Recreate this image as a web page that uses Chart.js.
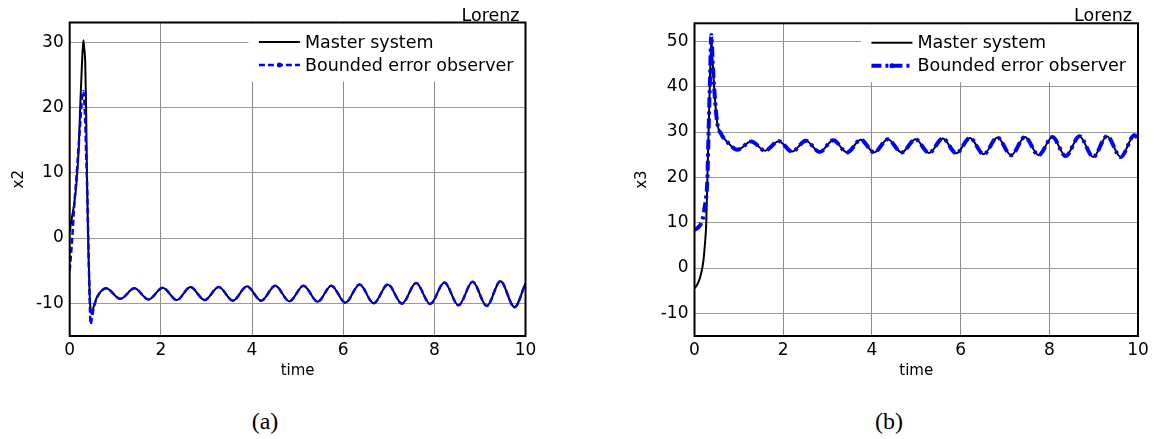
<!DOCTYPE html>
<html>
<head>
<meta charset="utf-8">
<script src="https://cdn.jsdelivr.net/npm/chart.js@4/dist/chart.umd.min.js"></script>
<style>
  html, body { margin: 0; padding: 0; background: #fff; }
  body { width: 1166px; height: 439px; position: relative; overflow: hidden; }
  .panel { position: absolute; top: 0; width: 583px; height: 395px; }
  .caption { position: absolute; top: 408px; width: 60px; text-align: center;
             font: 24px "Liberation Serif", serif; color: #000; }
</style>
</head>
<body>
<div class="panel" style="left:0"><canvas id="chartA" width="583" height="395"></canvas></div>
<div class="panel" style="left:583px"><canvas id="chartB" width="583" height="395"></canvas></div>
<div class="caption" style="left:235px">(a)</div>
<div class="caption" style="left:859px">(b)</div>
<script>
// ---- data ----
const timeTicks = [0, 2, 4, 6, 8, 10]
const x2Ticks = [-10, 0, 10, 20, 30]
const x3Ticks = [-10, 0, 10, 20, 30, 40, 50]
const seriesNames = ['Master system', 'Bounded error observer']

// (a) x2: start-up transient, master and observer differ
const x2TransientTime = [0, 0.05, 0.1, 0.15, 0.2, 0.23, 0.27, 0.3, 0.32, 0.34, 0.36, 0.38, 0.41, 0.44, 0.46, 0.48, 0.53, 0.6, 0.68, 0.8]
const x2MasterTransient = [1.0, 3.2, 5.3, 8.5, 14, 20, 26.8, 30.3, 29, 27, 20, 9, -2, -9, -11, -11.6, -10.4, -9.0, -8.2, -7.7]
const x2ObserverTransient = [-5, -0.5, 5, 9.5, 14.5, 17.5, 21.5, 22.5, 21, 18, 13, 8.5, -1, -10, -13.2, -12.5, -10.6, -9.1, -8.2, -7.7]
// (a) x2 afterwards: both curves lie on top of each other (troughs / crests)
const x2SteadyTime = [1.11, 1.42, 1.73, 2.04, 2.35, 2.65, 2.96, 3.27, 3.58, 3.89, 4.20, 4.51, 4.82, 5.13, 5.44, 5.74,
  6.05, 6.36, 6.67, 6.98, 7.29, 7.60, 7.91, 8.22, 8.53, 8.84, 9.15, 9.45, 9.76, 10.0]
const x2Steady = [-9.3, -7.7, -9.4, -7.6, -9.5, -7.5, -9.5, -7.5, -9.6, -7.4, -9.6, -7.3, -9.7, -7.3, -9.75, -7.3,
  -9.9, -7.1, -10.0, -7.1, -10.05, -6.9, -10.1, -6.8, -10.3, -6.7, -10.4, -6.6, -10.6, -6.9]

// (b) x3
const x3TransientTime = [0, 0.08, 0.15, 0.2, 0.23, 0.265, 0.29, 0.32, 0.35, 0.38, 0.41, 0.44, 0.51, 0.6, 0.75, 0.96]
const x3MasterTransient = [-4.5, -3.3, -1.2, 1.5, 4.7, 9.9, 19.6, 31, 42, 50.5, 45.5, 40.3, 32.2, 29.6, 27.7, 26.1]
const x3ObserverTransient = [8.4, 8.9, 9.9, 11.5, 13.5, 15.8, 19.6, 31, 42, 51.4, 45.5, 40.3, 32.2, 29.6, 27.7, 26.1]
const x3SteadyTime = [1.28, 1.59, 1.90, 2.20, 2.51, 2.82, 3.13, 3.44, 3.75, 4.05, 4.36, 4.67, 4.98, 5.29, 5.60,
  5.90, 6.21, 6.52, 6.83, 7.14, 7.45, 7.76, 8.07, 8.37, 8.68, 8.99, 9.30, 9.61, 9.92, 10.0]
const x3Steady = [27.9, 25.9, 28.0, 25.7, 28.1, 25.6, 28.2, 25.5, 28.3, 25.5, 28.4, 25.5, 28.4, 25.4, 28.6,
  25.3, 28.7, 25.1, 28.8, 24.9, 28.9, 24.9, 28.9, 24.7, 29.1, 24.5, 29.1, 24.5, 29.3, 28.6]

const FONT = '"DejaVu Sans", sans-serif'

function points(t1, v1, t2, v2) {
  return t1.map((t, i) => ({ x: t, y: v1[i] })).concat(t2.map((t, i) => ({ x: t, y: v2[i] })))
}

// MATLAB-like frame, legend box and corner label
const matlabLook = {
  id: 'matlabLook',
  afterDatasetsDraw(chart, args, opts) {
    const { ctx, chartArea: a } = chart
    const sets = chart.data.datasets
    ctx.save()
    ctx.font = '17.5px ' + FONT
    const w = Math.max(...sets.map(d => ctx.measureText(d.label).width))
    const textLeft = a.right - 12 - w
    const lineEnd = textLeft - 5
    const lineStart = lineEnd - 41
    const boxLeft = lineStart - 10.5
    ctx.fillStyle = '#fff'
    ctx.fillRect(boxLeft, a.top + 1, a.right - 1 - boxLeft, 58)
    sets.forEach((d, i) => {
      const y = a.top + 19.5 + i * 23
      ctx.strokeStyle = d.borderColor
      ctx.lineWidth = d.borderWidth
      ctx.setLineDash(d.borderDash || [])
      ctx.beginPath(); ctx.moveTo(lineStart, y); ctx.lineTo(lineEnd, y); ctx.stroke()
      if (d.legendDot) {
        ctx.setLineDash([])
        ctx.fillStyle = d.borderColor
        ctx.beginPath(); ctx.arc((lineStart + lineEnd) / 2, y, 2.5, 0, 2 * Math.PI); ctx.fill()
      }
      ctx.fillStyle = '#000'
      ctx.textAlign = 'left'
      ctx.textBaseline = 'middle'
      ctx.fillText(d.label, textLeft, y + 1)
    })
    ctx.setLineDash([])
    ctx.textAlign = 'right'
    ctx.textBaseline = 'alphabetic'
    ctx.fillText(opts.label, a.right - 6, a.top - 2)
    ctx.restore()
  },
  afterDraw(chart) {
    const { ctx, chartArea: a } = chart
    ctx.save()
    ctx.strokeStyle = '#000'
    ctx.lineWidth = 2
    ctx.strokeRect(a.left, a.top, a.right - a.left, a.bottom - a.top)
    ctx.restore()
  }
}

function makeChart(id, cfg) {
  return new Chart(document.getElementById(id), {
    type: 'line',
    data: {
      datasets: [
        {
          label: seriesNames[0], data: cfg.master, order: 2,
          borderColor: '#000000', borderWidth: 2,
          pointRadius: 0, cubicInterpolationMode: 'monotone'
        },
        {
          label: seriesNames[1], data: cfg.observer, order: 1,
          borderColor: '#0000ff', borderWidth: cfg.blueWidth, borderDash: cfg.blueDash,
          legendDot: true, pointRadius: 0, cubicInterpolationMode: 'monotone'
        }
      ]
    },
    options: {
      responsive: false,
      animation: false,
      layout: { padding: cfg.padding },
      plugins: { legend: { display: false }, tooltip: { enabled: false }, matlabLook: { label: 'Lorenz' } },
      scales: {
        x: {
          type: 'linear', min: 0, max: 10,
          afterBuildTicks: s => { s.ticks = timeTicks.map(v => ({ value: v })) },
          afterFit: s => { s.height = 48 },
          grid: { color: '#8c8c8c', lineWidth: 1, drawTicks: false },
          border: { display: false },
          ticks: { color: '#000', padding: 4, maxRotation: 0, font: { family: FONT, size: 17 } },
          title: { display: true, text: 'time', color: '#000', font: { family: FONT, size: 15 } }
        },
        y: {
          type: 'linear', min: cfg.yMin, max: cfg.yMax,
          afterBuildTicks: s => { s.ticks = cfg.yTicks.map(v => ({ value: v })) },
          afterFit: s => { s.width = cfg.yWidth },
          grid: { color: '#9a9a9a', lineWidth: 1, drawTicks: false },
          border: { display: false },
          ticks: { color: '#000', padding: 6, font: { family: FONT, size: 17 } },
          title: { display: true, text: cfg.yTitle, color: '#000', font: { family: FONT, size: 15 } }
        }
      }
    },
    plugins: [matlabLook]
  })
}

makeChart('chartA', {
  master: points(x2TransientTime, x2MasterTransient, x2SteadyTime, x2Steady),
  observer: points(x2TransientTime, x2ObserverTransient, x2SteadyTime, x2Steady),
  blueWidth: 2.5, blueDash: [6, 3],
  yMin: -15, yMax: 33, yTicks: x2Ticks, yTitle: 'x2',
  yWidth: 63.7,
  padding: { left: 6, top: 22.5, right: 57.5, bottom: 11 }
})

makeChart('chartB', {
  master: points(x3TransientTime, x3MasterTransient, x3SteadyTime, x3Steady),
  observer: points(x3TransientTime, x3ObserverTransient, x3SteadyTime, x3Steady),
  blueWidth: 4, blueDash: [10, 4, 3, 4],
  yMin: -15, yMax: 54, yTicks: x3Ticks, yTitle: 'x3',
  yWidth: 65.8,
  padding: { left: 45.7, top: 23.3, right: 28, bottom: 11 }
})
</script>
</body>
</html>
